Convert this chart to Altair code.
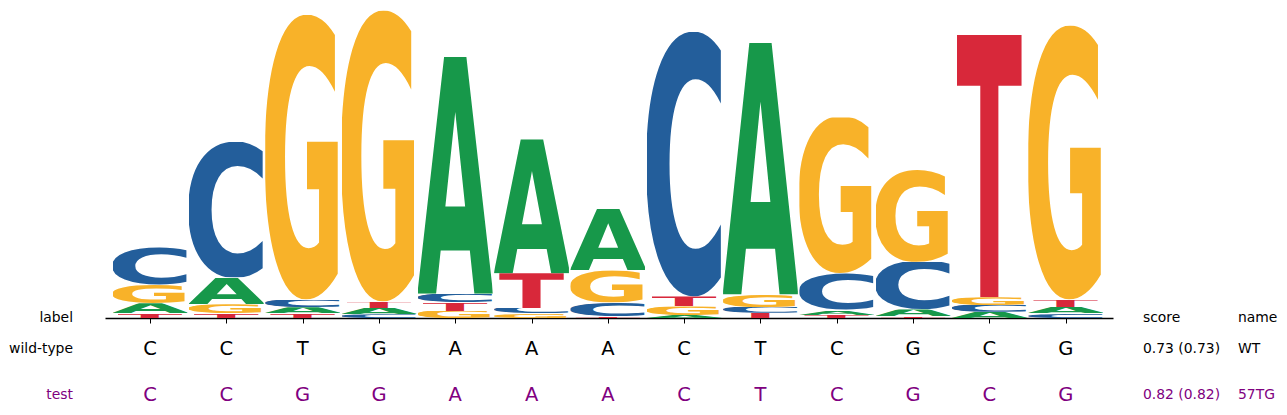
import base64
import altair as alt
import pandas as pd

# ---------------- data ----------------
positions = list(range(13))
bases = ["A", "C", "G", "T"]
# information content (bits) per base at each position
A_bits = [0.065, 0.175, 0.040, 0.040, 1.540, 0.875, 0.400, 0.020, 1.635, 0.032, 0.043, 0.040, 0.040]
C_bits = [0.250, 0.880, 0.050, 0.025, 0.058, 0.035, 0.090, 1.720, 0.038, 0.240, 0.310, 0.045, 0.032]
G_bits = [0.120, 0.060, 1.850, 1.890, 0.045, 0.030, 0.210, 0.055, 0.080, 1.010, 0.595, 0.050, 1.780]
T_bits = [0.030, 0.030, 0.030, 0.042, 0.055, 0.225, 0.010, 0.065, 0.034, 0.020, 0.013, 1.705, 0.048]

wt_seq = list("CCTGAAACTCGCG")
test_seq = list("CCGGAAACTCGCG")
row_labels = ["wild-type", "test"]
row_scores = ["0.73 (0.73)", "0.82 (0.82)"]
row_names = ["WT", "57TG"]
header = ["label", "score", "name"]

# ---------------- style ----------------
COLORS = {"A": "#17984a", "C": "#235e9b", "G": "#f8b229", "T": "#d8283a"}
HALF_W = {"A": 0.49, "C": 0.49, "G": 0.49, "T": 0.425}
# approximate glyph bounding boxes of DejaVu Sans Bold (font units, 2048/em)
GLYPH_BOX = {
    "A": (20, 0, 1565, 1493),
    "C": (113, -29, 1384, 1520),
    "G": (113, -29, 1575, 1520),
    "T": (10, 0, 1389, 1493),
}
PURPLE = "#800080"
FONT = "DejaVu Sans"


def glyph_url(letter):
    x0, y0, x1, y1 = GLYPH_BOX[letter]
    svg = (
        f'<svg xmlns="http://www.w3.org/2000/svg" viewBox="{x0} {-y1} {x1 - x0} {y1 - y0}" '
        f'width="{x1 - x0}" height="{y1 - y0}" preserveAspectRatio="none">'
        f'<text x="0" y="0" font-family="DejaVu Sans, Liberation Sans, sans-serif" '
        f'font-weight="bold" font-size="2048" fill="{COLORS[letter]}">{letter}</text></svg>'
    )
    return "data:image/svg+xml;base64," + base64.b64encode(svg.encode()).decode()


URLS = {b: glyph_url(b) for b in bases}
bits = {"A": A_bits, "C": C_bits, "G": G_bits, "T": T_bits}

rows = []
for i in positions:
    order = sorted(bases, key=lambda b: bits[b][i])
    bottom = 0.0
    for b in order:
        h = bits[b][i]
        rows.append(dict(pos=i, base=b, x0=i - HALF_W[b], x1=i + HALF_W[b],
                         y0=bottom, y1=bottom + h, url=URLS[b]))
        bottom += h
logo_df = pd.DataFrame(rows)

W, H = 1008, 308
xscale = alt.Scale(domain=[-0.59, 12.62], nice=False, zero=False)
yscale = alt.Scale(domain=[0, 2], nice=False, zero=True)

logo = alt.Chart(logo_df).mark_image(aspect=False).encode(
    x=alt.X("x0:Q", scale=xscale,
            axis=alt.Axis(values=positions, labels=False, title=None, grid=False,
                          tickSize=5, tickColor="black", domainColor="black",
                          domainWidth=1.3, tickWidth=1)),
    x2="x1:Q",
    y=alt.Y("y0:Q", scale=yscale, axis=None),
    y2="y1:Q",
    url="url:N",
)

seq_df = pd.DataFrame({"pos": positions, "wt": wt_seq, "test": test_seq})

wt_letters = alt.Chart(seq_df).mark_text(
    font=FONT, fontSize=19.5, align="center", baseline="alphabetic", color="black"
).encode(x=alt.X("pos:Q", scale=xscale, title=None), y=alt.value(345), text="wt:N")

test_letters = alt.Chart(seq_df).mark_text(
    font=FONT, fontSize=19.5, align="center", baseline="alphabetic", color=PURPLE
).encode(x=alt.X("pos:Q", scale=xscale, title=None), y=alt.value(391), text="test:N")

table_df = pd.DataFrame({
    "label": [header[0]] + row_labels,
    "score": [header[1]] + row_scores,
    "name": [header[2]] + row_names,
    "kind": ["header", "wt", "test"],
})


def text_layer(field, x, align, kind, ypx, color):
    return alt.Chart(table_df).transform_filter(
        alt.datum.kind == kind
    ).mark_text(font=FONT, fontSize=13.9, align=align, baseline="alphabetic", color=color).encode(
        x=alt.value(x), y=alt.value(ypx), text=f"{field}:N"
    )


layers = [logo, wt_letters, test_letters]
for kind, ypx, color in [("header", 312, "black"), ("wt", 343.3, "black"), ("test", 389.3, PURPLE)]:
    layers.append(text_layer("label", -32, "right", kind, ypx, color))
    layers.append(text_layer("score", 1038, "left", kind, ypx, color))
    layers.append(text_layer("name", 1133, "left", kind, ypx, color))

chart = alt.layer(*layers).properties(
    width=W, height=H,
    autosize=alt.AutoSizeParams(type="none"),
    padding={"left": 97, "top": 2, "right": 166, "bottom": 89},
    background="white",
).configure_view(stroke=None)

chart.save("out.html", embed_options={"renderer": "svg", "actions": False})
